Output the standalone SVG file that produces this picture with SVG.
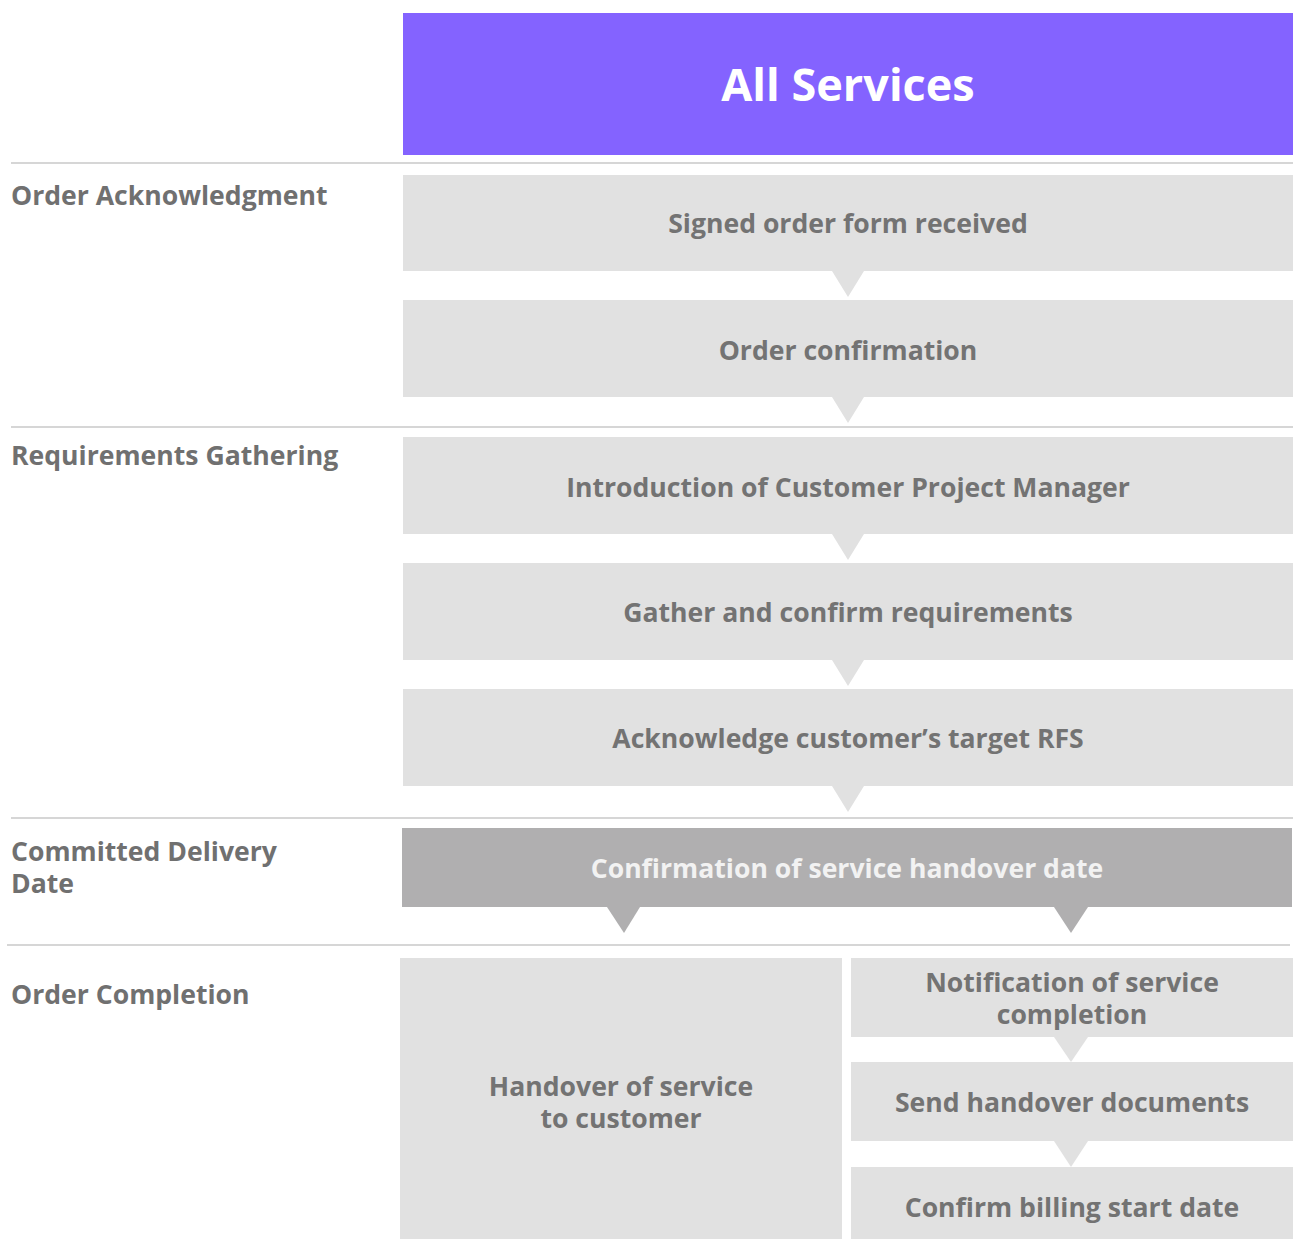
<svg xmlns="http://www.w3.org/2000/svg" width="1293" height="1239" viewBox="0 0 1293 1239">
<style>
.box{fill:#e1e1e1}
.dark{fill:#b0afb0}
.tri{fill:#e1e1e1}
.sep{stroke:#c8c8c8;stroke-width:1.5}
.t{font-family:"Open Sans","Liberation Sans",sans-serif;font-weight:700;font-size:26.6px;fill:#737373;text-anchor:middle}
.lab{font-family:"Open Sans","Liberation Sans",sans-serif;font-weight:700;font-size:26.6px;fill:#707070}
.hd{font-family:"Open Sans","Liberation Sans",sans-serif;font-weight:700;font-size:45px;fill:#ffffff;text-anchor:middle}
.lt{fill:#f2f2f2}
</style>
<rect width="1293" height="1239" fill="#ffffff"/>
<g id="separators">
<line class="sep" x1="11" y1="163" x2="1293" y2="163"/>
<line class="sep" x1="11" y1="427" x2="1293" y2="427"/>
<line class="sep" x1="11" y1="818" x2="1293" y2="818"/>
<line class="sep" x1="7" y1="945" x2="1290" y2="945"/>
</g>
<g id="labels">
<text class="lab" x="11" y="205">Order Acknowledgment</text>
<text class="lab" x="11" y="465">Requirements Gathering</text>
<text class="lab" x="11" y="861">Committed Delivery</text>
<text class="lab" x="11" y="893">Date</text>
<text class="lab" x="11" y="1004">Order Completion</text>
</g>
<g id="header">
<rect x="403" y="13" width="890" height="142" fill="#8463ff"/>
<text class="hd" x="848" y="101">All Services</text>
</g>
<g id="n1"><rect class="box" x="403" y="175" width="890" height="96"/><text class="t" x="848" y="233">Signed order form received</text></g>
<g id="n2"><rect class="box" x="403" y="300" width="890" height="97"/><text class="t" x="848" y="360">Order confirmation</text></g>
<g id="n3"><rect class="box" x="403" y="437" width="890" height="97"/><text class="t" x="848" y="497">Introduction of Customer Project Manager</text></g>
<g id="n4"><rect class="box" x="403" y="563" width="890" height="97"/><text class="t" x="848" y="622">Gather and confirm requirements</text></g>
<g id="n5"><rect class="box" x="403" y="689" width="890" height="97"/><text class="t" x="848" y="748">Acknowledge customer’s target RFS</text></g>
<g id="n6"><rect class="dark" x="402" y="828" width="890" height="79"/><text class="t lt" x="847" y="878">Confirmation of service handover date</text></g>
<g id="n7"><rect class="box" x="400" y="958" width="442" height="281"/><text class="t" x="621" y="1096">Handover of service</text><text class="t" x="621" y="1128">to customer</text></g>
<g id="n8"><rect class="box" x="851" y="958" width="442" height="79"/><text class="t" x="1072" y="992">Notification of service</text><text class="t" x="1072" y="1024">completion</text></g>
<g id="n9"><rect class="box" x="851" y="1062" width="442" height="79"/><text class="t" x="1072" y="1112">Send handover documents</text></g>
<g id="n10"><rect class="box" x="851" y="1167" width="442" height="72"/><text class="t" x="1072" y="1217">Confirm billing start date</text></g>
<g id="connectors">
<polygon class="tri" points="832,271 864,271 848,297"/>
<polygon class="tri" points="832,397 864,397 848,423"/>
<polygon class="tri" points="832,534 864,534 848,560"/>
<polygon class="tri" points="832,660 864,660 848,686"/>
<polygon class="tri" points="832,786 864,786 848,812"/>
<polygon class="dark" points="607,907 640,907 624,933"/>
<polygon class="dark" points="1054,907 1088,907 1071,933"/>
<polygon class="tri" points="1054,1037 1088,1037 1071,1062"/>
<polygon class="tri" points="1054,1141 1088,1141 1071,1167"/>
</g>
</svg>
